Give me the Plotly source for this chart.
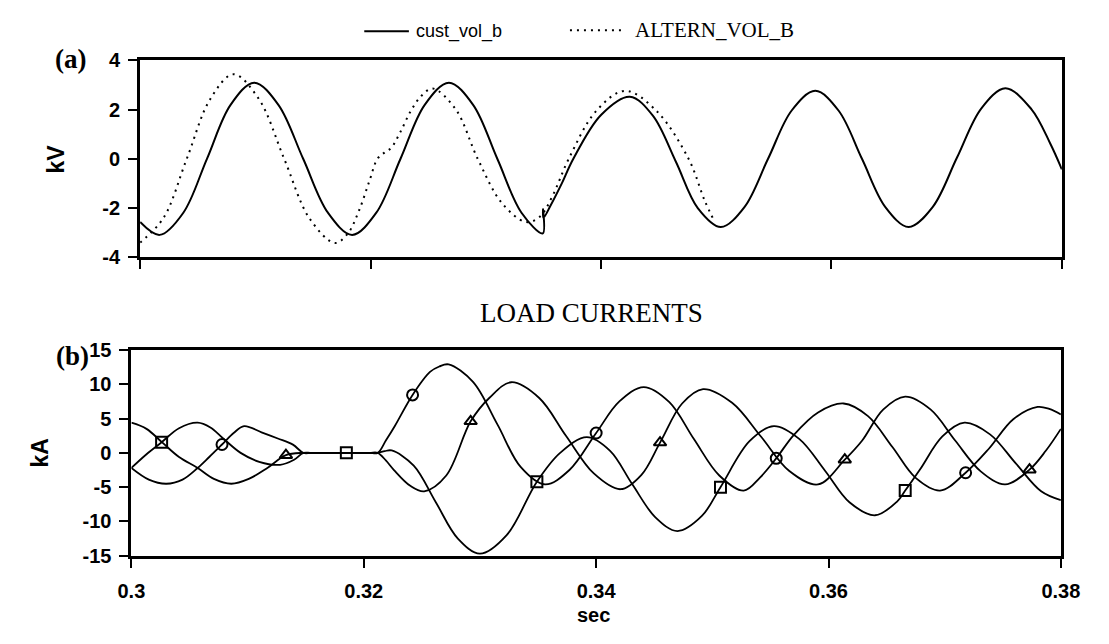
import plotly.graph_objects as go

W, H = 1109, 644

# ---- panel (a): phase-B voltages, kV ----
cust_t = [0.3000, 0.3017, 0.30375, 0.3058, 0.30785, 0.3099, 0.3120, 0.31415, 0.3163, 0.3184,
          0.3205, 0.3226, 0.3247, 0.3268, 0.3289, 0.3310, 0.3331, 0.33495, 0.33497, 0.3350,
          0.3356, 0.3366, 0.3376, 0.3400, 0.3425, 0.3445, 0.3465, 0.3484, 0.3504, 0.35245,
          0.3545, 0.35655, 0.3586, 0.36063, 0.36265, 0.36468, 0.3667, 0.3688, 0.3709, 0.3730,
          0.3751, 0.37735, 0.3790, 0.3800]
cust_v = [-2.57, -3.09, -2.19, 0.00, 2.19, 3.09, 2.19, 0.00, -2.19, -3.09,
          -2.19, 0.00, 2.19, 3.09, 2.19, 0.00, -2.19, -3.03, -2.05, -2.40,
          -1.92, -1.00, 0.00, 1.78, 2.52, 1.75, -0.12, -2.00, -2.77, -1.96,
          0.00, 1.96, 2.76, 1.95, 0.00, -1.96, -2.77, -1.95, 0.05, 2.04,
          2.86, 2.02, 0.61, -0.43]

altern_t = [0.3000, 0.30203, 0.30405, 0.30608, 0.3081, 0.3103, 0.3125, 0.3147, 0.3169, 0.3180,
            0.3190, 0.3199, 0.3206, 0.3212, 0.3218, 0.3226, 0.3235, 0.3244, 0.3254, 0.3274,
            0.3293, 0.3314, 0.3335, 0.3347, 0.3358, 0.3372, 0.3396, 0.3421, 0.3448, 0.3476,
            0.3490, 0.3498]
altern_v = [-3.40, -2.40, 0.00, 2.42, 3.43, 2.43, 0.00, -2.42, -3.42, -3.05,
            -2.10, -0.90, 0.00, 0.25, 0.45, 1.10, 1.95, 2.55, 2.85, 2.00,
            0.00, -1.80, -2.57, -2.35, -1.50, 0.00, 1.95, 2.76, 1.95, 0.00,
            -1.70, -2.50]

# ---- panel (b): load currents, kA ----
sq_t = [0.3000, 0.3013, 0.3026, 0.3041, 0.3057, 0.3068, 0.3079, 0.3094, 0.3110, 0.3128,
        0.3140, 0.3148, 0.3155, 0.3185, 0.3205, 0.3212, 0.3218, 0.3224, 0.3243, 0.3262,
        0.3281, 0.3300, 0.3323, 0.3349, 0.3369, 0.3392, 0.3412, 0.3431, 0.3451, 0.3470,
        0.3491, 0.3507, 0.3532, 0.3553, 0.3575, 0.3597, 0.3618, 0.3640, 0.3659, 0.3666,
        0.3679, 0.3698, 0.3717, 0.3739, 0.3761, 0.3783, 0.3800]
sq_v = [-2.20, -0.20, 1.55, 3.60, 4.40, 3.70, 2.10, 0.00, -1.30, -1.74,
        -1.00, 0.00, 0.00, 0.00, 0.00, 0.00, 0.25, 0.35, -1.85, -7.20,
        -12.50, -14.70, -12.00, -4.20, 0.00, 2.30, 0.30, -4.55, -9.40, -11.40,
        -9.20, -5.00, 1.70, 3.90, 2.00, -2.60, -7.20, -9.10, -7.10, -5.50,
        -2.35, 2.40, 4.40, 2.70, -1.50, -5.60, -6.90]

ci_t = [0.3000, 0.3015, 0.3030, 0.3044, 0.3057, 0.3067, 0.3078, 0.3088, 0.3097, 0.3112,
        0.3126, 0.3139, 0.3148, 0.3155, 0.3185, 0.3205, 0.3212, 0.3219, 0.3227, 0.3242,
        0.3257, 0.3265, 0.3273, 0.3294, 0.3315, 0.3335, 0.3356, 0.3377, 0.3400, 0.3420,
        0.3441, 0.3463, 0.3484, 0.3506, 0.3527, 0.3541, 0.3555, 0.3570, 0.3591, 0.3613,
        0.3634, 0.3655, 0.3675, 0.3696, 0.3718, 0.3738, 0.3759, 0.3780, 0.3790, 0.3800]
ci_v = [-2.20, -3.90, -4.50, -3.90, -2.20, -0.60, 1.22, 2.90, 3.90, 3.00,
        2.10, 1.20, 0.00, 0.00, 0.00, 0.00, 0.00, 1.80, 4.00, 8.45,
        11.80, 12.60, 12.90, 10.35, 4.15, -2.05, -4.60, -2.50, 2.90, 7.50,
        9.60, 7.40, 2.05, -3.30, -5.50, -3.60, -0.80, 2.60, 5.90, 7.20,
        5.35, 0.85, -3.65, -5.50, -2.90, 0.60, 4.90, 6.70, 6.40, 5.60]

tr_t = [0.3000, 0.3013, 0.3026, 0.3041, 0.3057, 0.3071, 0.3086, 0.3101, 0.3117, 0.3133,
        0.3148, 0.3155, 0.3185, 0.3205, 0.3212, 0.3219, 0.3226, 0.3240, 0.3252, 0.3271,
        0.3292, 0.3308, 0.3327, 0.3351, 0.3374, 0.3398, 0.3421, 0.3439, 0.3455, 0.3474,
        0.3492, 0.3517, 0.3542, 0.3566, 0.3591, 0.3614, 0.3629, 0.3647, 0.3666, 0.3688,
        0.3709, 0.3731, 0.3752, 0.3773, 0.3787, 0.3800]
tr_v = [4.40, 3.50, 1.60, -0.60, -2.20, -3.80, -4.50, -3.80, -2.20, -0.33,
        0.00, 0.00, 0.00, 0.00, 0.00, -1.10, -2.50, -4.80, -5.60, -3.30,
        4.60, 8.00, 10.30, 8.00, 2.50, -3.00, -5.30, -3.20, 1.50, 7.20,
        9.30, 7.30, 2.35, -2.60, -4.60, -1.00, 1.80, 6.30, 8.20, 6.30,
        1.80, -2.70, -4.60, -2.45, 0.30, 3.50]

# sample instants that carry a symbol on each current trace
sq_marks = [0.3026, 0.3185, 0.3349, 0.3507, 0.3666]
ci_marks = [0.3078, 0.3242, 0.3400, 0.3555, 0.3718]
tr_marks = [0.3133, 0.3292, 0.3455, 0.3614, 0.3773]

x_ticks = [0.30, 0.32, 0.34, 0.36, 0.38]
x_labels = ["0.3", "0.32", "0.34", "0.36", "0.38"]
kv_ticks = [-4, -2, 0, 2, 4]
kv_labels = ["-4", "-2", "0", "2", "4"]
ka_ticks = [-15, -10, -5, 0, 5, 10, 15]
ka_labels = ["-15", "-10", "-5", "0", "5", "10", "15"]

SANS = "Liberation Sans, Arial, sans-serif"
SERIF = "Liberation Serif, Times New Roman, serif"
DOTS = "2px,5px"


def px(x):
    return x / W


def py(y):
    return 1 - y / H


fig = go.Figure()

fig.add_trace(go.Scatter(x=altern_t, y=altern_v, mode="lines", xaxis="x", yaxis="y",
                         line=dict(color="black", width=2, dash=DOTS, shape="spline")))
fig.add_trace(go.Scatter(x=cust_t, y=cust_v, mode="lines", xaxis="x", yaxis="y",
                         line=dict(color="black", width=2, shape="spline")))

for t, v in [(sq_t, sq_v), (ci_t, ci_v), (tr_t, tr_v)]:
    fig.add_trace(go.Scatter(x=t, y=v, mode="lines", xaxis="x2", yaxis="y2",
                             line=dict(color="black", width=1.8, shape="spline")))

for t, v, marks, sym in [(sq_t, sq_v, sq_marks, "square-open"),
                         (ci_t, ci_v, ci_marks, "circle-open"),
                         (tr_t, tr_v, tr_marks, "triangle-up-open")]:
    lookup = dict(zip(t, v))
    fig.add_trace(go.Scatter(x=marks, y=[lookup[m] for m in marks], mode="markers",
                             xaxis="x2", yaxis="y2",
                             marker=dict(symbol=sym, size=11, color="black",
                                         line=dict(width=2, color="black"))))

frame = dict(showline=True, linewidth=3, linecolor="black", mirror=True,
             showgrid=False, zeroline=False, ticks="outside", tickwidth=2,
             tickcolor="black", ticklen=9)
tickfont = dict(family=SANS, size=20, color="black", weight="bold")

fig.update_layout(
    width=W, height=H, margin=dict(l=0, r=0, t=0, b=0),
    paper_bgcolor="white", plot_bgcolor="white", showlegend=False,
    xaxis=dict(frame, domain=[px(130), px(1080)], range=[0.3, 0.38], anchor="y",
               tickvals=x_ticks, showticklabels=False),
    yaxis=dict(frame, domain=[py(255), py(51)], range=[-4, 4], anchor="x",
               tickvals=kv_ticks, ticktext=kv_labels, tickfont=tickfont,
               ticklabelstandoff=4),
    xaxis2=dict(frame, domain=[px(121), px(1079)], range=[0.3, 0.38], anchor="y2",
                tickvals=x_ticks, ticktext=x_labels, tickfont=tickfont,
                ticklabelstandoff=6),
    yaxis2=dict(frame, domain=[py(564), py(351)], range=[-15, 15], anchor="x2",
                tickvals=ka_ticks, ticktext=ka_labels, tickfont=tickfont,
                ticklabelstandoff=4),
)

notes = [
    ("<b>(a)</b>", 58, 50, SERIF, 27, 0, "center"),
    ("<b>(b)</b>", 60, 357, SERIF, 27, 0, "center"),
    ("<b>kV</b>", 43, 153, SANS, 23, -90, "center"),
    ("<b>kA</b>", 27, 458, SANS, 23, -90, "center"),
    ("LOAD CURRENTS", 595, 313, SERIF, 27, 0, "center"),
    ("<b>sec</b>", 597, 625, SANS, 20, 0, "center"),
    ("cust_vol_b", 412, 21, SANS, 18, 0, "left"),
    ("ALTERN_VOL_B", 638, 20, SERIF, 21, 0, "left"),
]
for text, x, y, fam, size, ang, anchor in notes:
    fig.add_annotation(text=text, x=px(x), y=py(y), xref="paper", yref="paper",
                       showarrow=False, xanchor=anchor, yanchor="middle",
                       textangle=ang, font=dict(family=fam, size=size, color="black"))

# legend keys
fig.add_shape(type="line", xref="paper", yref="paper", x0=px(361), x1=px(407),
              y0=py(21), y1=py(21), line=dict(color="black", width=2))
fig.add_shape(type="line", xref="paper", yref="paper", x0=px(573), x1=px(627),
              y0=py(20), y1=py(20), line=dict(color="black", width=2, dash=DOTS))

fig.write_html("out.html")
